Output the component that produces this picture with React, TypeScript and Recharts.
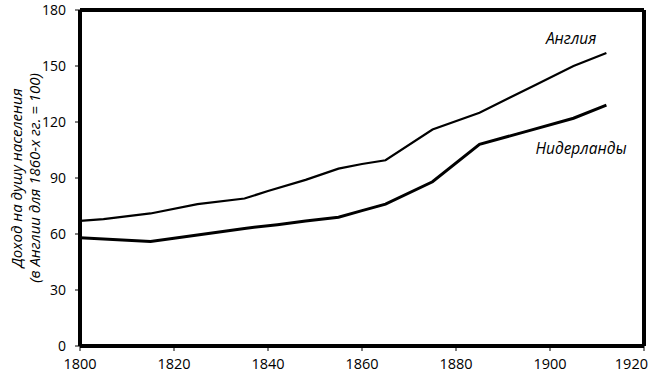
import { LineChart, Line, XAxis, YAxis, ReferenceDot, ReferenceLine } from "recharts";

const yearTicks = [1800, 1820, 1840, 1860, 1880, 1900, 1920];
const valueTicks = [0, 30, 60, 90, 120, 150, 180];

const englandYears = [1800, 1805, 1815, 1825, 1835, 1840, 1848, 1855, 1860, 1865, 1875, 1885, 1897, 1905, 1912];
const englandValues = [67, 68, 71, 76, 79, 83, 89, 95, 97.5, 99.5, 116, 125, 140, 150, 157];

const netherlandsYears = [1800, 1815, 1825, 1835, 1842, 1848, 1855, 1860, 1865, 1875, 1885, 1895, 1905, 1912];
const netherlandsValues = [58, 56, 59.5, 63, 65, 67, 69, 72.5, 76, 88, 108, 115, 122, 129];

const england = englandYears.map((year, i) => ({ year, value: englandValues[i] }));
const netherlands = netherlandsYears.map((year, i) => ({ year, value: netherlandsValues[i] }));

const font = "'Open Sans', sans-serif";

function AxisTitle(props: any) {
  const { viewBox } = props;
  const cy = viewBox.y + viewBox.height / 2;
  return (
    <g fontFamily={font} fontSize={15} fontStyle="italic" fill="#000">
      <text x={16} y={cy} textAnchor="middle" dominantBaseline="central" transform={`rotate(-90, 16, ${cy})`}>
        Доход на душу населения
      </text>
      <text x={34} y={cy} textAnchor="middle" dominantBaseline="central" transform={`rotate(-90, 34, ${cy})`}>
        (в Англии для 1860-х гг. = 100)
      </text>
    </g>
  );
}

function YearTick(props: any) {
  const { x, y, payload } = props;
  const last = payload.value === 1920;
  return (
    <text
      x={last ? x + 9 : x}
      y={y}
      dy={12}
      textAnchor={last ? "end" : "middle"}
      fill="#000"
      fontFamily={font}
      fontSize={14.5}
    >
      {payload.value}
    </text>
  );
}

export default function App() {
  return (
    <div style={{ position: "absolute", left: 0, top: 0, background: "#fff" }}>
      <LineChart width={655} height={384} margin={{ top: 10, right: 11, bottom: 8, left: 0 }}>
        <XAxis
          dataKey="year"
          type="number"
          domain={[1800, 1920]}
          ticks={yearTicks}
          allowDuplicatedCategory={false}
          axisLine={{ stroke: "#000", strokeWidth: 4 }}
          tickLine={{ stroke: "#000" }}
          tickSize={5}
          tickMargin={6}
          tick={<YearTick />}
        />
        <YAxis
          dataKey="value"
          type="number"
          domain={[0, 180]}
          ticks={valueTicks}
          width={80}
          axisLine={{ stroke: "#000", strokeWidth: 4 }}
          tickLine={{ stroke: "#000" }}
          tickSize={5}
          tickMargin={9}
          tick={{ fill: "#000", fontFamily: font, fontSize: 14 }}
          label={<AxisTitle />}
        />
        <ReferenceLine y={180} stroke="#000" strokeWidth={4} />
        <ReferenceLine x={1920} stroke="#000" strokeWidth={4} />
        <Line
          data={england}
          dataKey="value"
          type="linear"
          stroke="#000"
          strokeWidth={2.2}
          dot={false}
          isAnimationActive={false}
        />
        <Line
          data={netherlands}
          dataKey="value"
          type="linear"
          stroke="#000"
          strokeWidth={3}
          dot={false}
          isAnimationActive={false}
        />
        <ReferenceDot
          x={1904.5}
          y={165}
          r={0}
          fill="none"
          stroke="none"
          label={{ value: "Англия", position: "center", fill: "#000", fontFamily: font, fontSize: 15.5, fontStyle: "italic" }}
        />
        <ReferenceDot
          x={1906.6}
          y={106}
          r={0}
          fill="none"
          stroke="none"
          label={{ value: "Нидерланды", position: "center", fill: "#000", fontFamily: font, fontSize: 15.5, fontStyle: "italic" }}
        />
      </LineChart>
    </div>
  );
}
